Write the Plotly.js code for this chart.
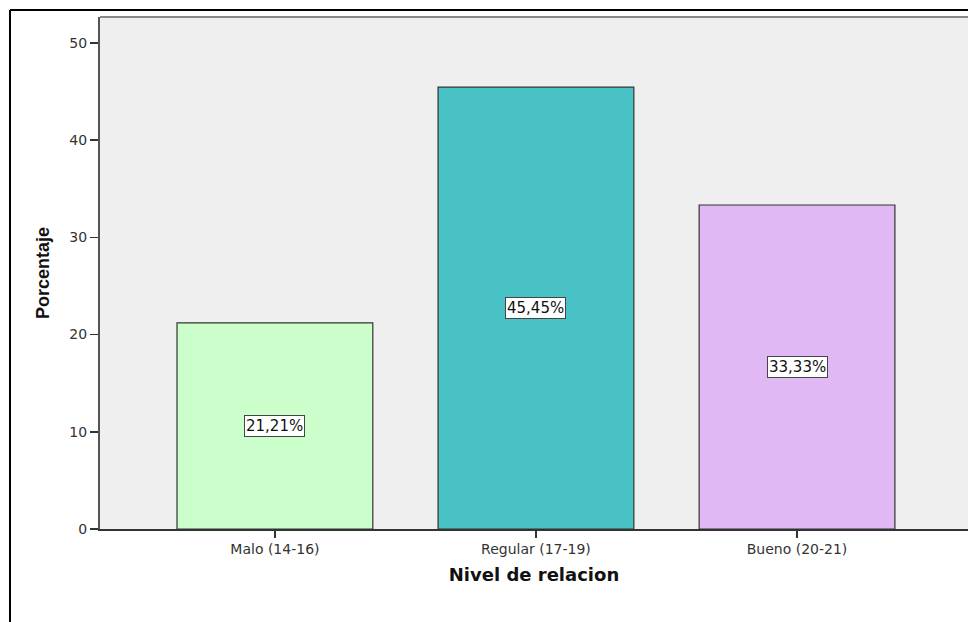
<!DOCTYPE html>
<html>
<head>
<meta charset="utf-8">
<script src="https://cdn.plot.ly/plotly-3.0.1.min.js"></script>
<style>html,body{margin:0;padding:0;background:#fff;overflow:hidden;}#chart{width:968px;height:622px;}</style>
</head>
<body>
<div id="chart"></div>
<script>
const categories = ["Malo (14-16)", "Regular (17-19)", "Bueno (20-21)"];
const percentages = [21.21, 45.45, 33.33];
const labels = ["21,21%", "45,45%", "33,33%"];
const barColors = ["#ccfecc", "#49c2c6", "#e0b8f3"];
const yTicks = [0, 10, 20, 30, 40, 50];

const trace = {
  type: "bar",
  x: categories,
  y: percentages,
  width: 0.75,
  marker: {color: barColors, line: {color: "#333333", width: 1.2}},
  hoverinfo: "none"
};

const annotations = categories.map((c, i) => ({
  x: c, y: percentages[i] / 2, xref: "x", yref: "y",
  text: labels[i], showarrow: false,
  font: {family: "DejaVu Sans, sans-serif", size: 15, color: "#111"},
  bgcolor: "#ffffff", bordercolor: "#444444", borderwidth: 1, borderpad: 1
}));

const layout = {
  width: 968, height: 622,
  margin: {l: 100, r: 0, t: 17, b: 93},
  paper_bgcolor: "#ffffff",
  plot_bgcolor: "#efefef",
  showlegend: false,
  xaxis: {
    type: "category",
    range: [-0.67, 2.655],
    showgrid: false, zeroline: false,
    showline: true, linecolor: "#333333", linewidth: 1.5,
    ticks: "outside", ticklen: 7, tickcolor: "#333333", tickwidth: 1.5,
    tickfont: {family: "DejaVu Sans, sans-serif", size: 14, color: "#333"},
    title: {text: "Nivel de relacion", standoff: 12,
      font: {family: "DejaVu Sans, sans-serif", size: 18, color: "#111", weight: "bold"}}
  },
  yaxis: {
    range: [0, 52.67],
    tickvals: yTicks,
    showgrid: false, zeroline: false,
    showline: true, linecolor: "#555555", linewidth: 2,
    ticks: "outside", ticklen: 8, tickcolor: "#333333", tickwidth: 1.5,
    tickfont: {family: "DejaVu Sans, sans-serif", size: 14, color: "#333"},
    title: {text: "Porcentaje", standoff: 15,
      font: {family: "Liberation Sans, Arial, sans-serif", size: 18, color: "#111", weight: "bold"}}
  },
  annotations: annotations,
  shapes: [
    {type: "line", xref: "paper", yref: "paper", x0: 0, x1: 1.05, y0: 1, y1: 1,
     line: {color: "#888888", width: 2}},
    {type: "line", xref: "paper", yref: "paper", x0: -0.1037, x1: -0.1037, y0: -0.2, y1: 1.0137,
     line: {color: "#000000", width: 2}},
    {type: "line", xref: "paper", yref: "paper", x0: -0.1037, x1: 1.05, y0: 1.0137, y1: 1.0137,
     line: {color: "#000000", width: 2}}
  ]
};

Plotly.newPlot("chart", [trace], layout, {staticPlot: true, displayModeBar: false});
</script>
</body>
</html>
